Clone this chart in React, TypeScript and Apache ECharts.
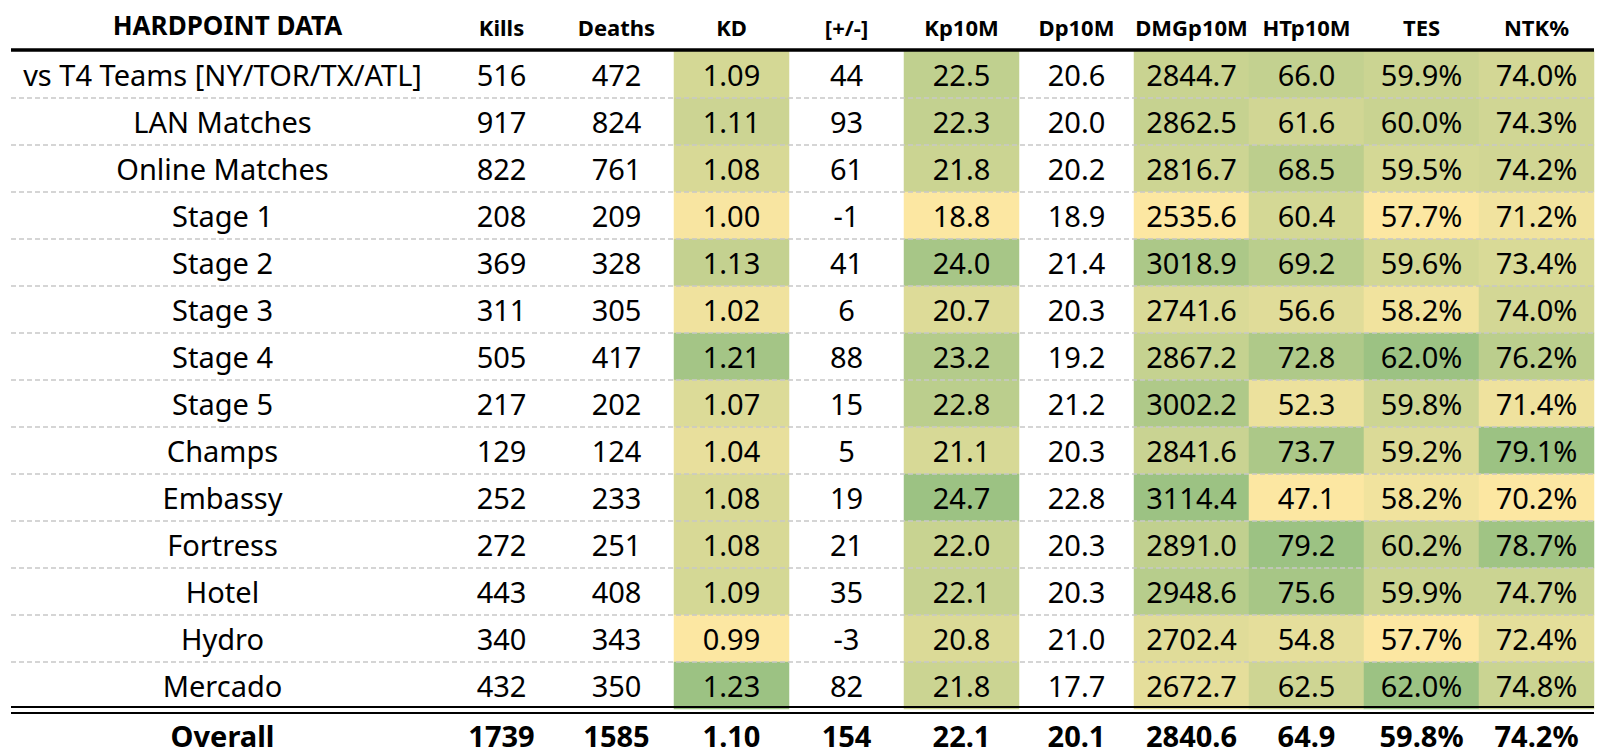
import React, { useEffect, useRef } from "react";
import * as echarts from "echarts";

const title = "HARDPOINT DATA";
const columns = ["Kills", "Deaths", "KD", "[+/-]", "Kp10M", "Dp10M", "DMGp10M", "HTp10M", "TES", "NTK%"];
const rowLabels = [
  "vs T4 Teams [NY/TOR/TX/ATL]",
  "LAN Matches",
  "Online Matches",
  "Stage 1",
  "Stage 2",
  "Stage 3",
  "Stage 4",
  "Stage 5",
  "Champs",
  "Embassy",
  "Fortress",
  "Hotel",
  "Hydro",
  "Mercado",
];
const kills = [516, 917, 822, 208, 369, 311, 505, 217, 129, 252, 272, 443, 340, 432];
const deaths = [472, 824, 761, 209, 328, 305, 417, 202, 124, 233, 251, 408, 343, 350];
const kd = [1.09, 1.11, 1.08, 1.0, 1.13, 1.02, 1.21, 1.07, 1.04, 1.08, 1.08, 1.09, 0.99, 1.23];
const plusMinus = [44, 93, 61, -1, 41, 6, 88, 15, 5, 19, 21, 35, -3, 82];
const kp10m = [22.5, 22.3, 21.8, 18.8, 24.0, 20.7, 23.2, 22.8, 21.1, 24.7, 22.0, 22.1, 20.8, 21.8];
const dp10m = [20.6, 20.0, 20.2, 18.9, 21.4, 20.3, 19.2, 21.2, 20.3, 22.8, 20.3, 20.3, 21.0, 17.7];
const dmgp10m = [2844.7, 2862.5, 2816.7, 2535.6, 3018.9, 2741.6, 2867.2, 3002.2, 2841.6, 3114.4, 2891.0, 2948.6, 2702.4, 2672.7];
const htp10m = [66.0, 61.6, 68.5, 60.4, 69.2, 56.6, 72.8, 52.3, 73.7, 47.1, 79.2, 75.6, 54.8, 62.5];
const tes = [59.9, 60.0, 59.5, 57.7, 59.6, 58.2, 62.0, 59.8, 59.2, 58.2, 60.2, 59.9, 57.7, 62.0];
const ntk = [74.0, 74.3, 74.2, 71.2, 73.4, 74.0, 76.2, 71.4, 79.1, 70.2, 78.7, 74.7, 72.4, 74.8];
const overallLabel = "Overall";
const overallValues = [1739, 1585, 1.1, 154, 22.1, 20.1, 2840.6, 64.9, 59.8, 74.2];

const columnValues = [kills, deaths, kd, plusMinus, kp10m, dp10m, dmgp10m, htp10m, tes, ntk];
const decimals = [0, 0, 2, 0, 1, 1, 1, 1, 1, 1];
const suffix = ["", "", "", "", "", "", "", "", "%", "%"];
const shaded = [false, false, true, false, true, false, true, true, true, true];

const FONT = '"Noto Sans", sans-serif';
const BODY_SIZE = 29;
const HEAD_SIZE = 22;
const TITLE_SIZE = 26;
const LABEL_DX = -5;

const allRows = [...rowLabels, overallLabel];
const lastBody = rowLabels.length - 1;
const overallRow = rowLabels.length;

const fmt = (v: number, c: number) => v.toFixed(decimals[c]) + suffix[c];

type Cell = { c: number; r: number; text: string; bold: boolean };

function buildOption() {
  const heatData: number[][] = [];
  columnValues.forEach((vals, c) => {
    if (!shaded[c]) return;
    const mn = Math.min(...vals);
    const mx = Math.max(...vals);
    vals.forEach((v, r) => heatData.push([c, r, (v - mn) / (mx - mn)]));
  });

  const valueCells: Cell[] = [];
  columnValues.forEach((vals, c) => {
    vals.forEach((v, r) => valueCells.push({ c, r, text: fmt(v, c), bold: false }));
    valueCells.push({ c, r: overallRow, text: fmt(overallValues[c], c), bold: true });
  });
  const labelCells: Cell[] = allRows.map((l, r) => ({ c: 0, r, text: l, bold: r === overallRow }));

  const textRender = (cells: Cell[], dx: number) => (params: any, api: any) => {
    const cell = cells[params.dataIndex];
    const p = api.coord([cell.c, cell.r]);
    const dy = cell.r === overallRow ? 3 : 0;
    return {
      type: "text",
      x: p[0] + dx,
      y: p[1] + dy,
      style: {
        text: cell.text,
        fill: "#000",
        fontFamily: FONT,
        fontSize: BODY_SIZE,
        fontWeight: cell.bold ? "bold" : "normal",
        align: "center",
        verticalAlign: "middle",
      },
    };
  };

  const ruleRender = (params: any, api: any) => {
    const r = api.value(1);
    const cs = params.coordSys;
    const cy = api.coord([0, r])[1];
    const h = api.size([0, 1])[1];
    const top = cy - h / 2;
    const bottom = cy + h / 2;
    const x1 = cs.x;
    const x2 = cs.x + cs.width;
    const ch: any[] = [];
    if (r === 0) {
      ch.push({ type: "line", shape: { x1, y1: top - 1, x2, y2: top - 1 }, style: { stroke: "#000", lineWidth: 3.5 } });
    }
    if (r < lastBody) {
      ch.push({
        type: "line",
        shape: { x1, y1: bottom, x2, y2: bottom },
        style: { stroke: "#c8c8c8", lineWidth: 1.5, lineDash: [5, 3] },
      });
    } else {
      ch.push({ type: "line", shape: { x1, y1: bottom - 2, x2, y2: bottom - 2 }, style: { stroke: "#000", lineWidth: 2 } });
      ch.push({ type: "line", shape: { x1, y1: bottom + 4, x2, y2: bottom + 4 }, style: { stroke: "#000", lineWidth: 2 } });
    }
    return { type: "group", children: ch };
  };

  const ruleData = rowLabels.map((_, r) => [0, r]);
  const headLabel = (size: number) => ({
    interval: 0,
    margin: 13,
    color: "#000",
    fontFamily: FONT,
    fontSize: size,
    fontWeight: "bold",
  });
  const hiddenAxisParts = { axisLine: { show: false }, axisTick: { show: false }, splitLine: { show: false } };

  return {
    animation: false,
    backgroundColor: "#fff",
    grid: [
      { left: 11, top: 51, width: 433, height: 705 },
      { left: 444, top: 51, width: 1150, height: 705 },
    ],
    xAxis: [
      { type: "category", gridIndex: 0, position: "top", data: [title], axisLabel: headLabel(TITLE_SIZE), ...hiddenAxisParts },
      { type: "category", gridIndex: 1, position: "top", data: columns, axisLabel: headLabel(HEAD_SIZE), ...hiddenAxisParts },
    ],
    yAxis: [
      { type: "category", gridIndex: 0, data: allRows, inverse: true, show: false },
      { type: "category", gridIndex: 1, data: allRows, inverse: true, show: false },
    ],
    visualMap: {
      type: "continuous",
      show: false,
      min: 0,
      max: 1,
      dimension: 2,
      seriesIndex: 0,
      inRange: { color: ["#FCE7A2", "#9CC283"] },
    },
    series: [
      {
        type: "heatmap",
        xAxisIndex: 1,
        yAxisIndex: 1,
        data: heatData,
        z: 2,
        label: { show: false },
        emphasis: { disabled: true },
        itemStyle: { borderWidth: 0 },
      },
      {
        type: "custom",
        xAxisIndex: 0,
        yAxisIndex: 0,
        data: ruleData,
        renderItem: ruleRender,
        clip: false,
        z: 3,
        silent: true,
      },
      {
        type: "custom",
        xAxisIndex: 1,
        yAxisIndex: 1,
        data: ruleData,
        renderItem: ruleRender,
        clip: false,
        z: 3,
        silent: true,
      },
      {
        type: "custom",
        xAxisIndex: 0,
        yAxisIndex: 0,
        data: labelCells.map((c) => [c.c, c.r]),
        renderItem: textRender(labelCells, LABEL_DX),
        clip: false,
        z: 4,
        silent: true,
      },
      {
        type: "custom",
        xAxisIndex: 1,
        yAxisIndex: 1,
        data: valueCells.map((c) => [c.c, c.r]),
        renderItem: textRender(valueCells, 0),
        clip: false,
        z: 4,
        silent: true,
      },
    ],
  };
}

export default function App() {
  const ref = useRef<HTMLDivElement>(null);
  useEffect(() => {
    const chart = echarts.init(ref.current!, null, { renderer: "svg" });
    chart.setOption(buildOption() as any);
    return () => chart.dispose();
  }, []);
  return (
    <div
      ref={ref}
      style={{ position: "fixed", left: 0, top: 0, width: 1614, height: 756, background: "#fff" }}
    />
  );
}
